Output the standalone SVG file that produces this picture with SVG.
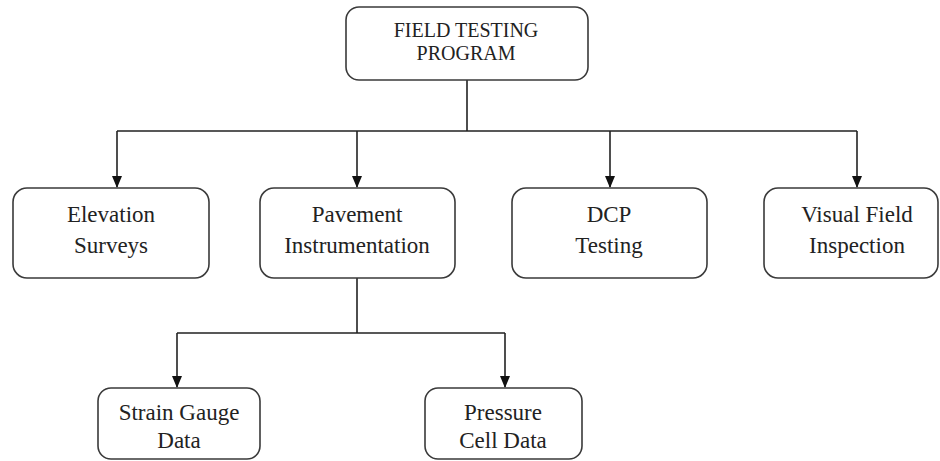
<svg xmlns="http://www.w3.org/2000/svg" width="940" height="461" viewBox="0 0 940 461">
<style>
.box{fill:#fff;stroke:#3a3a3a;stroke-width:1.6}
.t{font-family:"Liberation Serif","Times New Roman",serif;font-size:23px;fill:#222;text-anchor:middle}
.tt{font-family:"Liberation Serif","Times New Roman",serif;font-size:20px;fill:#222;text-anchor:middle}
.c{fill:none;stroke:#222;stroke-width:1.6}
</style>
<defs>
<marker id="ah" markerWidth="12" markerHeight="12" refX="11" refY="6" orient="auto" markerUnits="userSpaceOnUse">
<path d="M0,1 L12,6 L0,11 Z" fill="#111"/>
</marker>
</defs>
<rect width="940" height="461" fill="#fff"/>
<g id="connectors">
<path class="c" d="M467,80 V131 M117,131 H857"/>
<path class="c" d="M117,131 V187" marker-end="url(#ah)"/>
<path class="c" d="M357,131 V187" marker-end="url(#ah)"/>
<path class="c" d="M610,131 V187" marker-end="url(#ah)"/>
<path class="c" d="M857,131 V187" marker-end="url(#ah)"/>
<path class="c" d="M357,278 V333 M177,333 H505"/>
<path class="c" d="M177,333 V387" marker-end="url(#ah)"/>
<path class="c" d="M505,333 V387" marker-end="url(#ah)"/>
</g>
<g id="field-testing-program">
<rect class="box" x="346" y="7" width="242" height="73" rx="13"/>
<text class="tt" x="466" y="37">FIELD TESTING</text>
<text class="tt" x="466" y="60">PROGRAM</text>
</g>
<g id="elevation-surveys">
<rect class="box" x="13" y="188" width="196" height="90" rx="14"/>
<text class="t" x="111" y="222">Elevation</text>
<text class="t" x="111" y="253">Surveys</text>
</g>
<g id="pavement-instrumentation">
<rect class="box" x="260" y="188" width="195" height="90" rx="14"/>
<text class="t" x="357" y="222">Pavement</text>
<text class="t" x="357" y="253">Instrumentation</text>
</g>
<g id="dcp-testing">
<rect class="box" x="512" y="188" width="195" height="90" rx="14"/>
<text class="t" x="609" y="222">DCP</text>
<text class="t" x="609" y="253">Testing</text>
</g>
<g id="visual-field-inspection">
<rect class="box" x="764" y="188" width="174" height="90" rx="14"/>
<text class="t" x="857" y="222">Visual Field</text>
<text class="t" x="857" y="253">Inspection</text>
</g>
<g id="strain-gauge-data">
<rect class="box" x="98" y="388" width="162" height="71" rx="13"/>
<text class="t" x="179" y="420">Strain Gauge</text>
<text class="t" x="179" y="448">Data</text>
</g>
<g id="pressure-cell-data">
<rect class="box" x="425" y="388" width="157" height="71" rx="13"/>
<text class="t" x="503" y="420">Pressure</text>
<text class="t" x="503" y="448">Cell Data</text>
</g>
</svg>
